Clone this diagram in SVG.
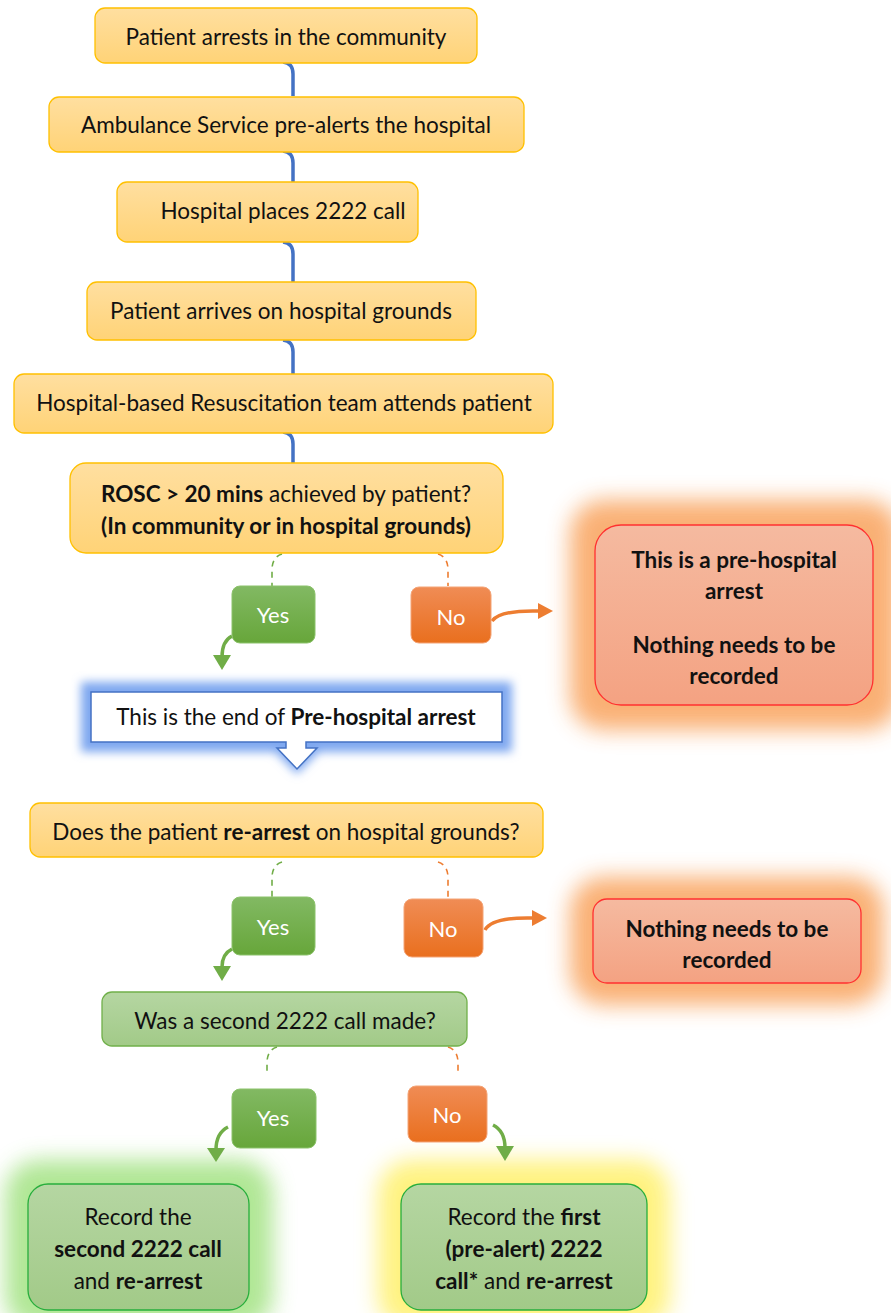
<svg xmlns="http://www.w3.org/2000/svg" width="891" height="1313" viewBox="0 0 891 1313">
<defs>
<linearGradient id="gOr" x1="0" y1="0" x2="0" y2="1"><stop offset="0" stop-color="#FFDFA0"/><stop offset="1" stop-color="#FFD377"/></linearGradient>
<linearGradient id="gYes" x1="0" y1="0" x2="0" y2="1"><stop offset="0" stop-color="#82B963"/><stop offset="1" stop-color="#67A63A"/></linearGradient>
<linearGradient id="gNo" x1="0" y1="0" x2="0" y2="1"><stop offset="0" stop-color="#F08C55"/><stop offset="1" stop-color="#E96F1E"/></linearGradient>
<linearGradient id="gRed" x1="0" y1="0" x2="0" y2="1"><stop offset="0" stop-color="#F5BAA0"/><stop offset="1" stop-color="#F4A282"/></linearGradient>
<linearGradient id="gGr" x1="0" y1="0" x2="0" y2="1"><stop offset="0" stop-color="#B5D6A2"/><stop offset="1" stop-color="#A2CA88"/></linearGradient>
<filter id="blur10" x="-30%" y="-30%" width="160%" height="160%"><feGaussianBlur stdDeviation="11"/></filter>
<filter id="blur5" x="-30%" y="-50%" width="160%" height="200%"><feGaussianBlur stdDeviation="5"/></filter>
</defs>
<style>
text{font-family:Lato,"Liberation Sans",sans-serif;font-size:22.5px;fill:#111;text-anchor:middle}
.b{font-weight:bold}
.w{fill:#fff;font-size:22px}
.or{fill:url(#gOr);stroke:#FFC000;stroke-width:1.3}
.yes{fill:url(#gYes);stroke:#8BC26A;stroke-width:1}
.no{fill:url(#gNo);stroke:#F4A477;stroke-width:1}
.red{fill:url(#gRed);stroke:#FF3030;stroke-width:1.3}
.gr{fill:url(#gGr);stroke:#70B04A;stroke-width:1.3}
.grf{fill:url(#gGr);stroke:#27AE3C;stroke-width:1.3}
.blue{fill:none;stroke:#4472C4;stroke-width:3.5}
.dg{fill:none;stroke:#70AD47;stroke-width:1.6;stroke-dasharray:6,5}
.do{fill:none;stroke:#ED7D31;stroke-width:1.6;stroke-dasharray:6,5}
.ag{fill:none;stroke:#70AD47;stroke-width:3.5}
.ao{fill:none;stroke:#ED7D31;stroke-width:3.5}
</style>

<g id="glows">
<rect x="570" y="500" width="330" height="230" rx="34" fill="#F9A866" opacity="0.9" filter="url(#blur10)"/>
<rect x="570" y="877" width="314" height="128" rx="34" fill="#F9A866" opacity="0.9" filter="url(#blur10)"/>
<rect x="5" y="1160" width="268" height="170" rx="34" fill="#A8E48A" opacity="0.9" filter="url(#blur10)"/>
<rect x="378" y="1160" width="292" height="170" rx="34" fill="#FFF27A" opacity="0.95" filter="url(#blur10)"/>
<path d="M81,682 H512 V752 H319 L297,774 L275,752 H81 Z" fill="#7FA8F0" filter="url(#blur5)"/>
</g>

<g id="connectors">
<path class="blue" d="M283,62 Q293,63 293,74 V96"/>
<path class="blue" d="M283,151 Q293,152 293,163 V182"/>
<path class="blue" d="M283,242 Q293,243 293,254 V282"/>
<path class="blue" d="M283,340 Q293,341 293,352 V374"/>
<path class="blue" d="M283,432 Q293,433 293,444 V463"/>
<path class="dg" d="M282,554 Q272,557 272,570 V586"/>
<path class="do" d="M438,554 Q448,557 448,570 V586"/>
<path class="ag" d="M232,636 Q222,641 222,657"/>
<path d="M213,655 H231 L222,670 Z" fill="#70AD47"/>
<path class="ao" d="M492,621 Q500,610 539,611"/>
<path d="M538,603 L553,611 L538,619 Z" fill="#ED7D31"/>
<path class="dg" d="M282,862 Q272,865 272,878 V897"/>
<path class="do" d="M438,862 Q448,865 448,878 V898"/>
<path class="ag" d="M232,949 Q222,954 222,967"/>
<path d="M213,966 H231 L222,981 Z" fill="#70AD47"/>
<path class="ao" d="M485,930 Q492,917 533,918"/>
<path d="M532,910 L547,918 L532,926 Z" fill="#ED7D31"/>
<path class="dg" d="M277,1047 Q267,1050 267,1063 V1075"/>
<path class="do" d="M448,1047 Q458,1050 458,1063 V1075"/>
<path class="ag" d="M228,1127 Q216,1133 216,1150"/>
<path d="M207,1148 H225 L216,1162 Z" fill="#70AD47"/>
<path class="ag" d="M493,1125 Q505,1131 505,1148"/>
<path d="M496,1146 H514 L505,1161 Z" fill="#70AD47"/>
</g>

<g id="n1"><rect class="or" x="95" y="8" width="382" height="55" rx="10"/><text x="286" y="45">Patient arrests in the community</text></g>
<g id="n2"><rect class="or" x="49" y="97" width="475" height="55" rx="10"/><text x="286" y="133">Ambulance Service pre-alerts the hospital</text></g>
<g id="n3"><rect class="or" x="117" y="182" width="301" height="60" rx="10"/><text x="283" y="219">Hospital places 2222 call</text></g>
<g id="n4"><rect class="or" x="87" y="282" width="389" height="58" rx="10"/><text x="281" y="319">Patient arrives on hospital grounds</text></g>
<g id="n5"><rect class="or" x="14" y="374" width="539" height="59" rx="10"/><text x="284" y="411">Hospital-based Resuscitation team attends patient</text></g>
<g id="n6"><rect class="or" x="70" y="463" width="433" height="90" rx="16"/>
<text x="286" y="502"><tspan class="b">ROSC &gt; 20 mins</tspan> achieved by patient?</text>
<text x="286" y="534" class="b">(In community or in hospital grounds)</text></g>
<g id="yes1"><rect class="yes" x="232" y="586" width="83" height="57" rx="8"/><text class="w" x="273" y="623">Yes</text></g>
<g id="no1"><rect class="no" x="411" y="587" width="80" height="56" rx="8"/><text class="w" x="451" y="625">No</text></g>
<g id="red1"><rect class="red" x="595" y="525" width="278" height="180" rx="26"/>
<text class="b" x="734" y="568">This is a pre-hospital</text>
<text class="b" x="734" y="599">arrest</text>
<text class="b" x="734" y="653">Nothing needs to be</text>
<text class="b" x="734" y="684">recorded</text></g>
<g id="end1"><path d="M91,692 H502 V742 H306 V748 H317 L297,769 L277,748 H286 V742 H91 Z" fill="#fff" stroke="#4472C4" stroke-width="1.5"/>
<text x="296" y="725">This is the end of <tspan class="b">Pre-hospital arrest</tspan></text></g>
<g id="n7"><rect class="or" x="30" y="803" width="513" height="54" rx="10"/><text x="286" y="840">Does the patient <tspan class="b">re-arrest</tspan> on hospital grounds?</text></g>
<g id="yes2"><rect class="yes" x="232" y="897" width="83" height="58" rx="8"/><text class="w" x="273" y="935">Yes</text></g>
<g id="no2"><rect class="no" x="404" y="899" width="79" height="58" rx="8"/><text class="w" x="443" y="937">No</text></g>
<g id="red2"><rect class="red" x="593" y="899" width="268" height="84" rx="14"/>
<text class="b" x="727" y="937">Nothing needs to be</text>
<text class="b" x="727" y="968">recorded</text></g>
<g id="n8"><rect class="gr" x="102" y="992" width="365" height="54" rx="10"/><text x="285" y="1029">Was a second 2222 call made?</text></g>
<g id="yes3"><rect class="yes" x="232" y="1089" width="84" height="59" rx="8"/><text class="w" x="273" y="1126">Yes</text></g>
<g id="no3"><rect class="no" x="408" y="1086" width="79" height="56" rx="8"/><text class="w" x="447" y="1123">No</text></g>
<g id="f1"><rect class="grf" x="28" y="1184" width="221" height="126" rx="20"/>
<text x="138" y="1225">Record the</text>
<text class="b" x="138" y="1257">second 2222 call</text>
<text x="138" y="1289">and <tspan class="b">re-arrest</tspan></text></g>
<g id="f2"><rect class="grf" x="401" y="1184" width="246" height="126" rx="20"/>
<text x="524" y="1225">Record the <tspan class="b">first</tspan></text>
<text class="b" x="524" y="1257">(pre-alert) 2222</text>
<text x="524" y="1289"><tspan class="b">call*</tspan> and <tspan class="b">re-arrest</tspan></text></g>
</svg>
